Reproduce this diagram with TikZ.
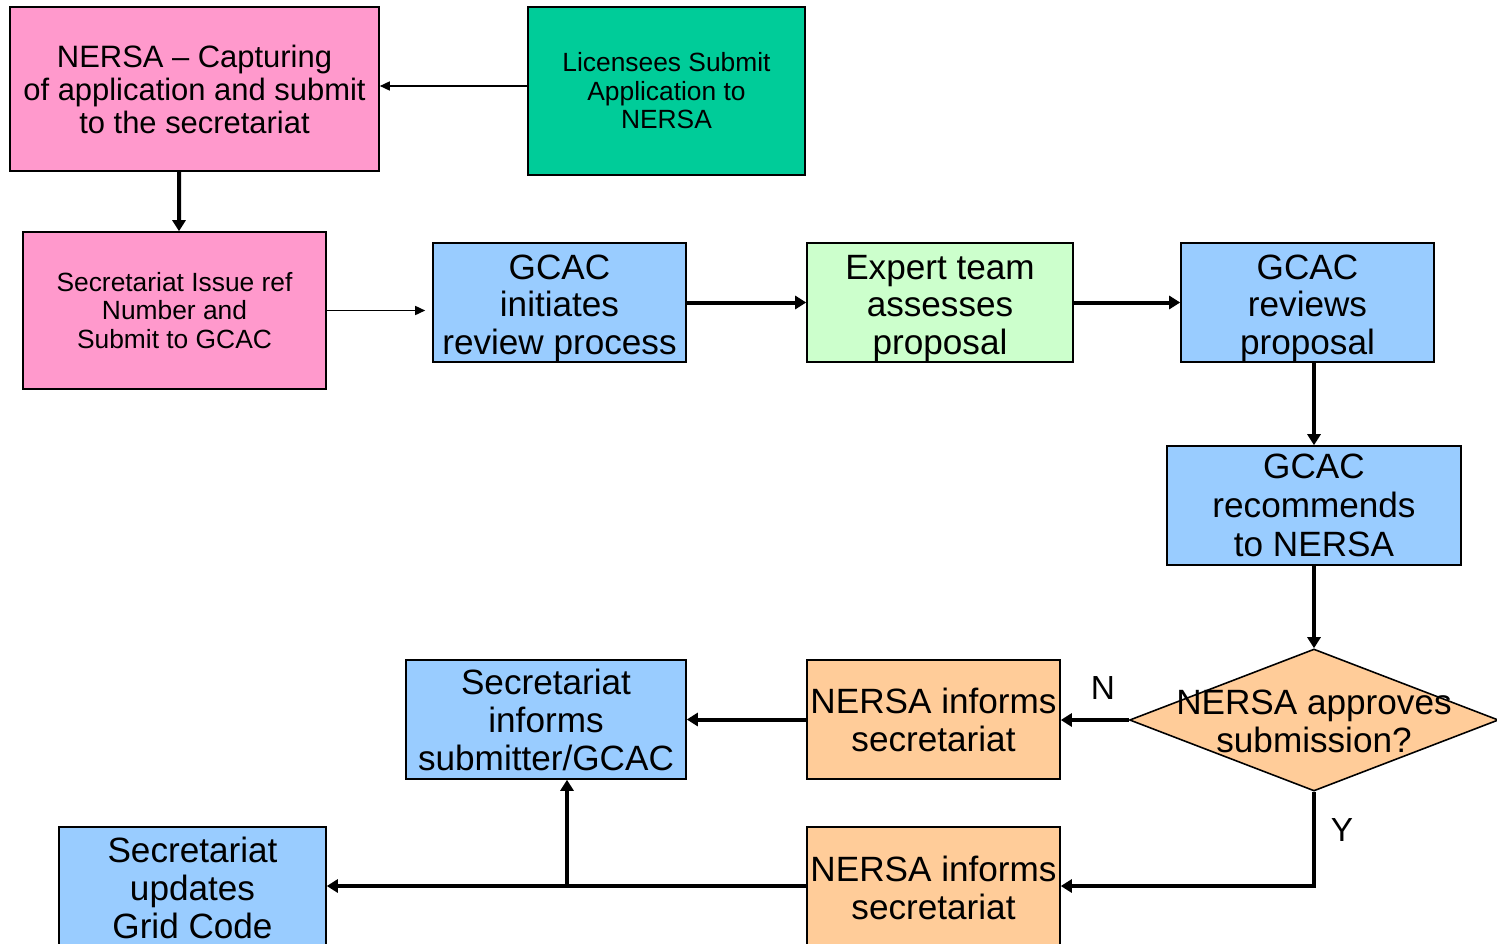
\documentclass[tikz,border=0pt]{standalone}
\usepackage{fontspec}
\setmainfont{Liberation Sans}
\usetikzlibrary{arrows.meta,shapes.geometric}
\definecolor{cpink}{HTML}{FF99CC}
\definecolor{cgreen}{HTML}{00CC99}
\definecolor{cblue}{HTML}{99CCFF}
\definecolor{clgreen}{HTML}{CCFFCC}
\definecolor{corange}{HTML}{FFCC99}
\newcommand{\topstrut}{\rule{0pt}{10.3pt}}
\tikzset{
  box/.style={draw=black, line width=0.45pt, rectangle, inner sep=0pt, align=center},
  bigtxt/.style={font=\fontsize{10}{10.8}\selectfont},
  midtxt/.style={font=\fontsize{8.8}{9.4}\selectfont},
  smalltxt/.style={font=\fontsize{7.5}{8.1}\selectfont},
  thinarrow/.style={line width=0.15mm, -{Triangle[length=1mm, width=0.9mm]}},
  thickarrow/.style={line width=0.4mm, -{Triangle[length=1.1mm, width=1.3mm]}},
  lbl/.style={font=\fontsize{9.5}{10}\selectfont, inner sep=0pt}
}
\begin{document}
\begin{tikzpicture}[x=0.1mm, y=-0.1mm]
\useasboundingbox (0,0) rectangle (1497,943);
\clip (0,0) rectangle (1497,943);
% boxes
\node[box, midtxt, fill=cpink, minimum width=36.9mm, minimum height=16.4mm] (nersa) at (194.5,89) {NERSA -- Capturing\\of application and submit\\to the secretariat};
\node[box, smalltxt, fill=cgreen, minimum width=27.7mm, minimum height=16.8mm] (lic) at (666.5,91) {Licensees Submit\\Application to\\NERSA};
\node[box, smalltxt, fill=cpink, minimum width=30.3mm, minimum height=15.7mm] (sec) at (174.5,310.5) {Secretariat Issue ref\\Number and\\Submit to GCAC};
\node[box, bigtxt, fill=cblue, minimum width=25.3mm, minimum height=11.9mm] (gcac1) at (559.5,302.5) {\topstrut GCAC\\initiates\\review process};
\node[box, bigtxt, fill=clgreen, minimum width=26.6mm, minimum height=11.9mm] (expert) at (940,302.5) {\topstrut Expert team\\assesses\\proposal};
\node[box, bigtxt, fill=cblue, minimum width=25.3mm, minimum height=11.9mm] (gcac2) at (1307.5,302.5) {\topstrut GCAC\\reviews\\proposal};
\node[box, font=\fontsize{10}{11.1}\selectfont, fill=cblue, minimum width=29.4mm, minimum height=11.9mm] (gcac3) at (1314,505.5) {GCAC\\recommends\\to NERSA};
\node[diamond, draw=black, line width=0.45pt, fill=corange, minimum width=36.9mm, minimum height=14.2mm, inner sep=0pt] (dec) at (1314,720) {};
\node[bigtxt, align=center, inner sep=0pt] (dectxt) at (1314,721) {NERSA approves\\submission?};
\node[box, bigtxt, fill=corange, minimum width=25.3mm, minimum height=11.9mm] (inf1) at (933.5,719.5) {NERSA informs\\secretariat};
\node[box, bigtxt, fill=cblue, minimum width=28mm, minimum height=11.9mm] (secinf) at (546,719.5) {Secretariat\\informs\\submitter/GCAC};
\node[box, bigtxt, fill=corange, minimum width=25.3mm, minimum height=12.2mm] (inf2) at (933.5,888) {NERSA informs\\secretariat};
\node[box, bigtxt, fill=cblue, minimum width=26.7mm, minimum height=12.2mm] (upd) at (192.5,888) {Secretariat\\updates\\Grid Code};
% connectors
\draw[thinarrow] (lic.west |- 0,86) -- (nersa.east |- 0,86);
\draw[thickarrow] ([xshift=-1.55mm]nersa.south) -- ([xshift=0.45mm]sec.north);
\draw[thinarrow] (sec.east) -- ([xshift=-0.7mm]gcac1.west |- sec.east);
\draw[thickarrow] (gcac1.east) -- (expert.west);
\draw[thickarrow] (expert.east) -- (gcac2.west);
\draw[thickarrow] (gcac3.north |- gcac2.south) -- (gcac3.north);
\draw[thickarrow] (gcac3.south) -- (dec.north);
\draw[thickarrow] (dec.west) -- (inf1.east |- dec.west);
\node[lbl] (nlab) at (1103,688) {N};
\draw[thickarrow] (inf1.west) -- (secinf.east);
\draw[thickarrow] (dec.south) |- (inf2.east |- 0,886);
\node[lbl] (ylab) at (1342,830) {Y};
\draw[thickarrow] (inf2.west |- 0,886) -- (upd.east |- 0,886);
\coordinate (br) at (567,886);
\draw[thickarrow] (br) -- (br |- secinf.south);
\end{tikzpicture}
\end{document}
